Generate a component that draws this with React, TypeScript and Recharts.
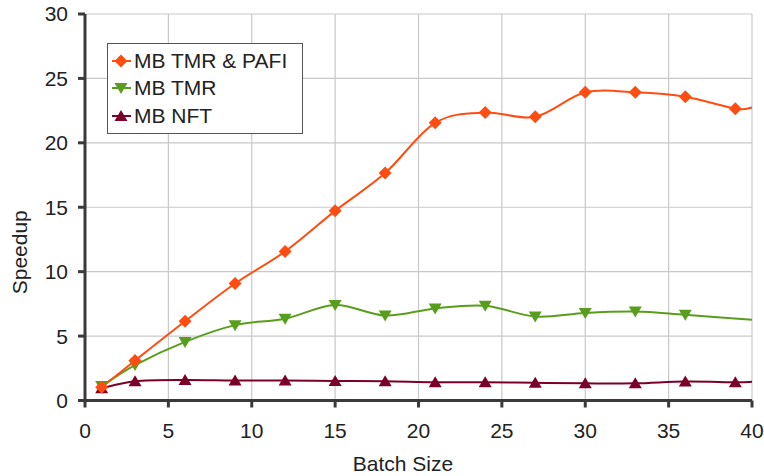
import { LineChart, Line, XAxis, YAxis, CartesianGrid } from "recharts"

const batchSizes = [1, 3, 6, 9, 12, 15, 18, 21, 24, 27, 30, 33, 36, 39, 40]
const tmrPafi = [1.03, 3.1, 6.15, 9.08, 11.57, 14.72, 17.65, 21.55, 22.35, 22.02, 23.92, 23.92, 23.58, 22.65, 22.75]
const tmr = [1.12, 2.75, 4.55, 5.85, 6.35, 7.42, 6.6, 7.15, 7.35, 6.52, 6.8, 6.9, 6.65, null, 6.27]
const nft = [0.95, 1.5, 1.6, 1.55, 1.55, 1.52, 1.5, 1.42, 1.42, 1.37, 1.33, 1.33, 1.48, 1.42, 1.45]
const xTicks = [0, 5, 10, 15, 20, 25, 30, 35, 40]
const yTicks = [0, 5, 10, 15, 20, 25, 30]

const RED = "#ff4d12"
const GREEN = "#589e1c"
const MAROON = "#7a0028"
const FONT = "'Liberation Sans', Arial, sans-serif"
const FS = 21

const data = batchSizes.map((x, i) => ({ x, pafi: tmrPafi[i], tmr: tmr[i], nft: nft[i] }))

// Excel-like smoothing: uniform Catmull-Rom through every point
// eslint-disable-next-line @typescript-eslint/no-explicit-any
function smooth(context: any) {
  let pts: number[][] = []
  return {
    areaStart() {},
    areaEnd() {},
    lineStart() { pts = [] },
    point(x: number, y: number) { pts.push([+x, +y]) },
    lineEnd() {
      if (!pts.length) return
      context.moveTo(pts[0][0], pts[0][1])
      for (let i = 0; i < pts.length - 1; i++) {
        const p0 = pts[i - 1] || pts[i]
        const p1 = pts[i]
        const p2 = pts[i + 1]
        const p3 = pts[i + 2] || p2
        context.bezierCurveTo(
          p1[0] + (p2[0] - p0[0]) / 6, p1[1] + (p2[1] - p0[1]) / 6,
          p2[0] - (p3[0] - p1[0]) / 6, p2[1] - (p3[1] - p1[1]) / 6,
          p2[0], p2[1],
        )
      }
    },
  }
}

function marker(kind: string, cx: number, cy: number, color: string, key?: string) {
  if (kind === "diamond") {
    const r = 6.5
    return <polygon key={key} points={`${cx},${cy - r} ${cx + r},${cy} ${cx},${cy + r} ${cx - r},${cy}`} fill={color} />
  }
  if (kind === "down") {
    return <polygon key={key} points={`${cx - 6.5},${cy - 5} ${cx + 6.5},${cy - 5} ${cx},${cy + 6}`} fill={color} />
  }
  return <polygon key={key} points={`${cx - 6.5},${cy + 5} ${cx + 6.5},${cy + 5} ${cx},${cy - 6}`} fill={color} />
}

// eslint-disable-next-line @typescript-eslint/no-explicit-any
const dotFor = (kind: string, color: string) => (props: any) => {
  const { cx, cy, payload, index } = props
  if (payload.x === 40 || cx == null || cy == null) return <g key={`d${index}`} />
  return marker(kind, cx, cy, color, `d${index}`)
}

const legendItems = [
  { label: "MB TMR & PAFI", color: RED, kind: "diamond" },
  { label: "MB TMR", color: GREEN, kind: "down" },
  { label: "MB NFT", color: MAROON, kind: "up" },
]

function LegendBox() {
  return (
    <div style={{ position: "absolute", left: 107, top: 43, border: "1px solid #555", background: "#fff", width: 196, height: 91, boxSizing: "border-box", paddingTop: 3 }}>
      {legendItems.map((it) => (
        <div key={it.label} style={{ display: "flex", alignItems: "center", height: 27.5 }}>
          <svg width={23} height={20} style={{ marginLeft: 3 }}>
            <line x1={1} y1={10} x2={20} y2={10} stroke={it.color} strokeWidth={2} />
            {marker(it.kind, 10, 10, it.color)}
          </svg>
          <span style={{ fontFamily: FONT, fontSize: FS, color: "#222" }}>{it.label}</span>
        </div>
      ))}
    </div>
  )
}

// eslint-disable-next-line @typescript-eslint/no-explicit-any
const yLabel = (props: any) => {
  const { viewBox } = props
  const cy = viewBox.y + viewBox.height / 2 + 45
  return (
    <text x={27} y={cy} transform={`rotate(-90, 27, ${cy})`} textAnchor="middle" fontFamily={FONT} fontSize={FS} fill="#222">
      Speedup
    </text>
  )
}

const xLabel = () => (
  <text x={403} y={471} textAnchor="middle" fontFamily={FONT} fontSize={FS} fill="#222">
    Batch Size
  </text>
)

export default function App() {
  return (
    <div style={{ position: "absolute", left: 0, top: 0, width: 764, height: 476, background: "#fff" }}>
      <LineChart width={764} height={476} data={data} margin={{ top: 14, right: 12, bottom: 0, left: 0 }}>
        <CartesianGrid stroke="#c8c8c8" strokeWidth={1.2} />
        <XAxis
          type="number"
          dataKey="x"
          domain={[0, 40]}
          ticks={xTicks}
          height={75.5}
          axisLine={{ stroke: "#3a3a3a", strokeWidth: 3 }}
          tickLine={{ stroke: "#3a3a3a", strokeWidth: 3 }}
          tickSize={7}
          tickMargin={16}
          tick={{ fontFamily: FONT, fontSize: FS, fill: "#222" }}
          label={xLabel}
        />
        <YAxis
          type="number"
          domain={[0, 30]}
          ticks={yTicks}
          width={85}
          axisLine={{ stroke: "#3a3a3a", strokeWidth: 3 }}
          tickLine={{ stroke: "#3a3a3a", strokeWidth: 3 }}
          tickSize={7}
          tickMargin={10}
          tick={{ fontFamily: FONT, fontSize: FS, fill: "#222" }}
          label={yLabel}
        />
        <Line dataKey="nft" type={smooth as never} stroke={MAROON} strokeWidth={2} dot={dotFor("up", MAROON)} isAnimationActive={false} connectNulls />
        <Line dataKey="tmr" type={smooth as never} stroke={GREEN} strokeWidth={2} dot={dotFor("down", GREEN)} isAnimationActive={false} connectNulls />
        <Line dataKey="pafi" type={smooth as never} stroke={RED} strokeWidth={2} dot={dotFor("diamond", RED)} isAnimationActive={false} connectNulls />
      </LineChart>
      <LegendBox />
    </div>
  )
}
